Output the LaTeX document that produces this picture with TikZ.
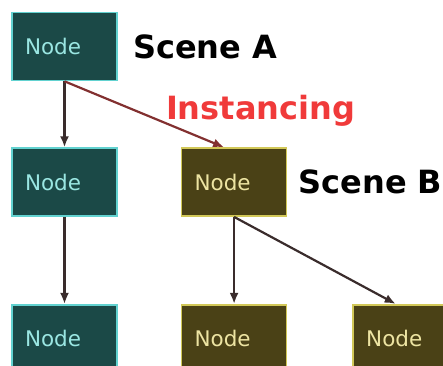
\documentclass[tikz,border=0pt]{standalone}
\usepackage{fontspec}
\setmainfont{DejaVu Sans}
\usepackage{tikz}
\usetikzlibrary{arrows.meta,positioning}
\definecolor{tealfill}{HTML}{1B4947}
\definecolor{tealline}{HTML}{62D2D0}
\definecolor{tealtext}{HTML}{9AE6E2}
\definecolor{olivefill}{HTML}{4A4116}
\definecolor{oliveline}{HTML}{D2C858}
\definecolor{olivetext}{HTML}{EDE4A2}
\definecolor{edgecol}{HTML}{3A2C2C}
\definecolor{instcol}{HTML}{823030}
\definecolor{instred}{HTML}{F03A3A}

\begin{document}
\begin{tikzpicture}[x=1pt,y=1pt,node distance=66pt and 63pt,
tnode/.style={draw=tealline,fill=tealfill,text=tealtext,line width=1.6pt,
  minimum height=68pt,text width=79pt,inner xsep=13pt,align=left,
  font=\fontsize{21.5}{26}\selectfont},
onode/.style={tnode,draw=oliveline,fill=olivefill,text=olivetext},
scene/.style={inner sep=0pt,font=\bfseries\fontsize{32}{38}\selectfont},
arr/.style={-{Latex[length=11pt,width=9pt]},line width=2.2pt,color=edgecol}]
\useasboundingbox (0,0) rectangle (443,-365);
\clip (0,0) rectangle (443,-365);
% scene A
\node[tnode] (A) at (64.5,-46.5) {Node};
\node[tnode,below=of A] (L2) {Node};
\node[tnode,below=87pt of L2] (L3) {Node};
% scene B
\node[onode,right=of L2] (B) {Node};
\node[onode,below=87pt of B] (M3) {Node};
\node[onode,right=65pt of M3] (R3) {Node};
% labels
\node[scene,right=15pt of A] (sa) {Scene A};
\node[scene,right=11pt of B] (sb) {Scene B};
\node[scene,text=instred,anchor=base west] (inst)
  at ([xshift=48pt,yshift=-38pt]A.south east) {Instancing};
\draw[arr] (A)--(L2);
\draw[arr] (L2)--(L3);
\draw[arr,color=instcol] (A.south)--([xshift=-10pt]B.north);
\draw[arr] (B)--(M3);
\draw[arr] (B.south)--([xshift=-10pt]R3.north);
\end{tikzpicture}
\end{document}
